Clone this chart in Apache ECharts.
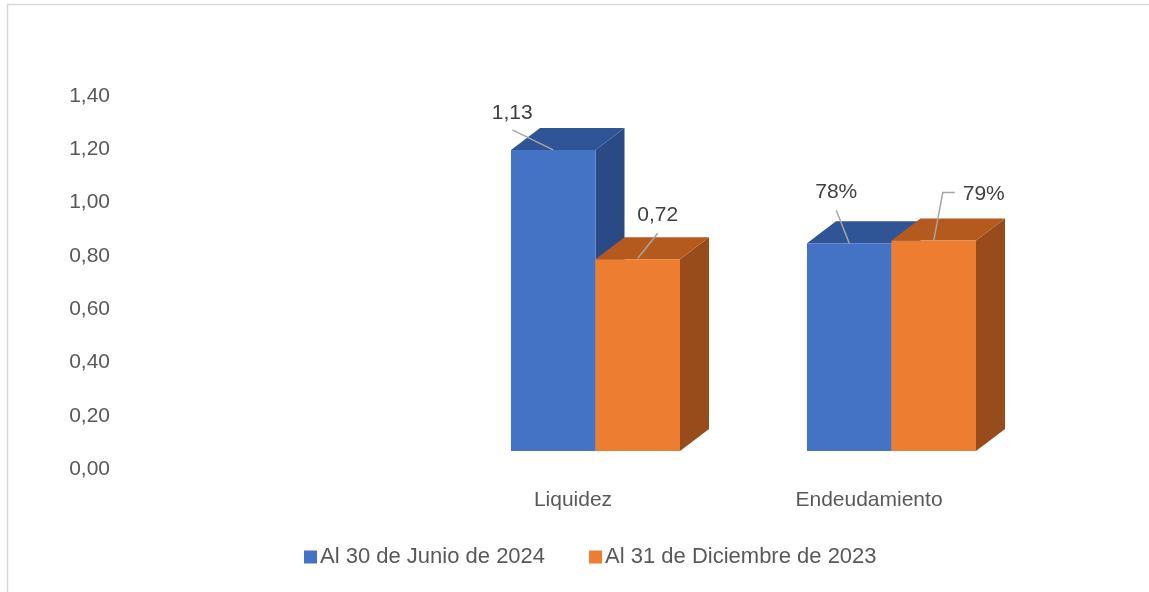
<!DOCTYPE html>
<html>
<head>
<meta charset="utf-8">
<script src="https://cdn.jsdelivr.net/npm/echarts@6/dist/echarts.min.js"></script>
<style>html,body{margin:0;padding:0;background:#fff;}#main{width:1149px;height:592px;}</style>
</head>
<body>
<div id="main"></div>
<script>
// ---- data ----
const categories = ['', 'Liquidez', 'Endeudamiento'];
const seriesNames = ['Al 30 de Junio de 2024', 'Al 31 de Diciembre de 2023'];
const junio2024 = [null, 1.13, 0.78];
const diciembre2023 = [null, 0.72, 0.79];
const labelFormat = ['', 'num', 'pct'];
const yTicks = [0, 0.2, 0.4, 0.6, 0.8, 1.0, 1.2, 1.4];

// ---- style / layout ----
const FONT = '"Liberation Sans", Arial, sans-serif';
const DEPTH_X = 29, DEPTH_Y = -22, FLOOR_DY = -18, BAR_W = 84.5;
const palettes = [
  { front: '#4472C4', top: '#2F5597', side: '#294A84' },
  { front: '#ED7D31', top: '#B45A1F', side: '#984C1C' }
];
const barStart = [-62, 22.5]; // front-face left edge relative to category centre
// label offset relative to front-top-centre, leader polyline relative points
const labelLayout = [
  { 1: { t: [-41, -37], l: [[-41, -20], [0, 0]] }, 2: { t: [-13, -51], l: [[-13, -33], [0, 0]] } },
  { 1: { t: [20, -44], l: [[20, -26], [0, -1]] }, 2: { t: [50, -46], l: [[21, -48], [9, -48], [0, 0]] } }
];

function fmt(v, kind) {
  if (kind === 'pct') return Math.round(v * 100) + '%';
  return v.toFixed(2).replace('.', ',');
}

function makeRender(si) {
  return function (params, api) {
    const cat = api.value(0), val = api.value(1);
    if (isNaN(val) || val == null) return;
    const p = api.coord([cat, val]);
    const b = api.coord([cat, 0]);
    const x0 = p[0] + barStart[si], x1 = x0 + BAR_W;
    const yt = p[1] + FLOOR_DY, yb = b[1] + FLOOR_DY;
    const pal = palettes[si];
    const children = [
      { type: 'polygon', shape: { points: [[x1, yt], [x1 + DEPTH_X, yt + DEPTH_Y], [x1 + DEPTH_X, yb + DEPTH_Y], [x1, yb]] }, style: { fill: pal.side } },
      { type: 'polygon', shape: { points: [[x0, yt], [x0 + DEPTH_X, yt + DEPTH_Y], [x1 + DEPTH_X, yt + DEPTH_Y], [x1, yt]] }, style: { fill: pal.top } },
      { type: 'rect', shape: { x: x0, y: yt, width: BAR_W, height: yb - yt }, style: { fill: pal.front } }
    ];
    const lay = labelLayout[si][cat];
    if (lay) {
      const cx = (x0 + x1) / 2;
      children.push({ type: 'polyline', shape: { points: lay.l.map(q => [cx + q[0], yt + q[1]]) }, style: { stroke: '#A6A6A6', lineWidth: 1.5, fill: null } });
      children.push({ type: 'text', style: { x: cx + lay.t[0], y: yt + lay.t[1], text: fmt(val, labelFormat[cat]), fill: '#404040', font: '21px ' + FONT, align: 'center', verticalAlign: 'middle' } });
    }
    return { type: 'group', children: children };
  };
}

const chart = echarts.init(document.getElementById('main'), null, { renderer: 'canvas' });
const seriesData = [junio2024, diciembre2023];
chart.setOption({
  animation: false,
  backgroundColor: '#fff',
  graphic: [
    { type: 'line', shape: { x1: 7.5, y1: 4, x2: 7.5, y2: 592 }, style: { stroke: '#D9D9D9', lineWidth: 1.5 } },
    { type: 'line', shape: { x1: 7, y1: 4.5, x2: 1149, y2: 4.5 }, style: { stroke: '#D9D9D9', lineWidth: 1.5 } }
  ],
  grid: { left: 129, right: 132, top: 96, bottom: 123 },
  legend: {
    bottom: 19, left: 299, itemGap: 44, itemWidth: 13, itemHeight: 13, icon: 'rect',
    textStyle: { color: '#595959', fontSize: 22, fontFamily: FONT, padding: [0, 0, 0, -2] },
    data: seriesNames.map((n, i) => ({ name: n, itemStyle: { color: palettes[i].front } }))
  },
  xAxis: {
    type: 'category', data: categories,
    axisLine: { show: false }, axisTick: { show: false },
    axisLabel: { color: '#595959', fontSize: 21, fontFamily: FONT, margin: 21 }
  },
  yAxis: {
    type: 'value', min: yTicks[0], max: yTicks[yTicks.length - 1], interval: 0.2,
    splitLine: { show: false }, axisLine: { show: false }, axisTick: { show: false },
    axisLabel: { color: '#595959', fontSize: 21, fontFamily: FONT, margin: 19, formatter: v => v.toFixed(2).replace('.', ',') }
  },
  series: seriesData.map((arr, si) => ({
    type: 'custom', name: seriesNames[si],
    itemStyle: { color: palettes[si].front },
    renderItem: makeRender(si),
    encode: { x: 0, y: 1 },
    data: arr.map((v, i) => [i, v == null ? '-' : v]),
    z: 2 + si
  }))
});
</script>
</body>
</html>
